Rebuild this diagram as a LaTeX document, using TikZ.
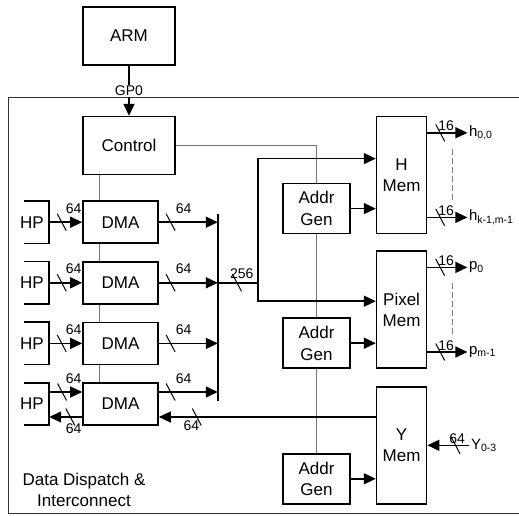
\documentclass[tikz,border=0pt]{standalone}
\usepackage{fontspec}
\setmainfont{Liberation Sans}
\usetikzlibrary{arrows.meta, positioning, calc}

\begin{document}
\begin{tikzpicture}[
  x=1pt, y=1pt,
  boxtext/.style={font=\fontsize{17}{21.5}\selectfont},
  block/.style={draw, line width=1.6pt, fill=white, align=center, inner sep=0pt, boxtext},
  cpubox/.style={block, minimum width=92pt, minimum height=58pt},
  dmabox/.style={block, minimum width=75pt, minimum height=42pt},
  agbox/.style={block, minimum width=67pt, minimum height=50pt},
  membox/.style={block, minimum width=50pt, minimum height=117pt},
  hpbox/.style={minimum width=25pt, minimum height=42pt, inner sep=0pt, label={[boxtext, xshift=-4.5pt]center:HP}},
  lab/.style={font=\fontsize{14}{16}\selectfont, inner sep=1pt},
  outlab/.style={font=\fontsize{15}{17}\selectfont, inner sep=1.5pt, anchor=west},
  arr/.style={-{Triangle[length=12pt, width=11pt]}, line width=1.5pt},
  bus/.style={line width=1.5pt},
  bracket/.style={line width=1.6pt},
  ctrl/.style={line width=1pt, black!55},
  frame/.style={line width=1pt, black!80},
  gap/.style={dash pattern=on 6pt off 3pt, line width=1pt, black!50},
  busmark/.pic={\draw[-, line width=1pt] (-4.5pt,8.5pt) -- (4.5pt,-8.5pt);}
]
\useasboundingbox (0,0) rectangle (519,516);
\draw[frame] (519,418) -- (8,418) -- (8,2) -- (519,2);

\node[cpubox] (arm) at (129,480) {ARM};
\node[cpubox, below=50pt of arm] (control) {Control};
\node[dmabox, below right=25pt and 0pt of control.south west] (dma1) {DMA};
\node[dmabox, below=17pt of dma1] (dma2) {DMA};
\node[dmabox, below=17pt of dma2] (dma3) {DMA};
\node[dmabox, below=17pt of dma3] (dma4) {DMA};
\node[hpbox, left=33pt of dma1] (hp1) {};
\node[hpbox, left=33pt of dma2] (hp2) {};
\node[hpbox, left=33pt of dma3] (hp3) {};
\node[hpbox, left=33pt of dma4] (hp4) {};
\node[membox, below right=0pt and 200pt of control.north east] (hmem) {H\\Mem};
\node[membox, below=16pt of hmem] (pmem) {Pixel\\Mem};
\node[membox, below=17pt of pmem] (ymem) {Y\\Mem};
\node[agbox, above left=0pt and 25pt of hmem.south west] (addr1) {Addr\\Gen};
\node[agbox, above left=0pt and 25pt of pmem.south west] (addr2) {Addr\\Gen};
\node[agbox, above left=0pt and 25pt of ymem.south west] (addr3) {Addr\\Gen};
\node[boxtext, align=center] (ddi) at (84,26) {Data Dispatch \&\\Interconnect};

\node[outlab] (h00) at ([xshift=40pt, yshift=-17pt]hmem.north east) {h\textsubscript{0,0}};
\node[outlab] (hkm) at ([xshift=40pt, yshift=17pt]hmem.south east) {h\textsubscript{k-1,m-1}};
\node[outlab] (p0) at ([xshift=40pt, yshift=-17pt]pmem.north east) {p\textsubscript{0}};
\node[outlab] (pm) at ([xshift=40pt, yshift=17pt]pmem.south east) {p\textsubscript{m-1}};
\node[outlab] (yin) at ([xshift=42pt]ymem.east) {Y\textsubscript{0-3}};

\coordinate[right=59pt of dma1.east] (bus1);
\coordinate[right=59pt of dma2.east] (bus2);
\coordinate[right=59pt of dma3.east] (bus3);
\coordinate[right=59pt of dma4.east, yshift=12pt] (bus4);
\coordinate[right=40pt of bus2] (split);
\coordinate[below=13pt of dma4.east] (ret);

% control wiring
\draw[ctrl] (control.east) -| (addr1.north);
\draw[ctrl] (addr1.south) -- (addr2.north);
\draw[ctrl] (addr2.south) -- (addr3.north);
\draw[ctrl] ([xshift=17pt]control.south west) -- ([xshift=17pt]dma1.north west);
\draw[ctrl] ([xshift=17pt]dma1.south west) -- ([xshift=17pt]dma2.north west);
\draw[ctrl] ([xshift=17pt]dma2.south west) -- ([xshift=17pt]dma3.north west);
\draw[ctrl] ([xshift=17pt]dma3.south west) -- ([xshift=17pt]dma4.north west);
\draw[arr] (arm) -- node[lab, fill=white, inner xsep=3pt] {GP0} (control);

% host ports
\draw[bracket] (hp1.north west) -- (hp1.north east) -- (hp1.south east) -- (hp1.south west);
\draw[bracket] (hp2.north west) -- (hp2.north east) -- (hp2.south east) -- (hp2.south west);
\draw[bracket] (hp3.north west) -- (hp3.north east) -- (hp3.south east) -- (hp3.south west);
\draw[bracket] (hp4.north west) -- (hp4.north east) -- (hp4.south east) -- (hp4.south west);
\draw[arr] (hp1.east) -- pic[pos=.38]{busmark} node[lab, pos=.74, above=7pt] {64} (dma1.west);
\draw[arr] (hp2.east) -- pic[pos=.38]{busmark} node[lab, pos=.74, above=7pt] {64} (dma2.west);
\draw[arr] (hp3.east) -- pic[pos=.38]{busmark} node[lab, pos=.74, above=7pt] {64} (dma3.west);
\draw[arr] ([yshift=12pt]hp4.east) -- pic[pos=.39]{busmark} node[lab, pos=.74, above=7pt] {64} ([yshift=12pt]dma4.west);
\draw[arr] ([yshift=-13pt]dma4.west) -- pic[pos=.36]{busmark} node[lab, pos=.26, below=5pt] {64} ([yshift=-13pt]hp4.east);

% dma to bus
\draw[arr] (dma1.east) -- pic[pos=.2]{busmark} node[lab, pos=.42, above=7pt] {64} (bus1);
\draw[arr] (dma2.east) -- pic[pos=.2]{busmark} node[lab, pos=.42, above=7pt] {64} (bus2);
\draw[arr] (dma3.east) -- pic[pos=.2]{busmark} node[lab, pos=.42, above=7pt] {64} (bus3);
\draw[arr] ([yshift=12pt]dma4.east) -- pic[pos=.2]{busmark} node[lab, pos=.42, above=7pt] {64} (bus4);
\draw[bus] ([yshift=8pt]bus1) -- ([yshift=-9pt]bus4);
\draw[bus] (bus2) -- pic[pos=.48]{busmark} node[lab, pos=.6, above=2pt] {256} (split);
\draw[arr] (split) |- ([yshift=16.5pt]hmem.west);
\draw[arr] (split) |- ([yshift=8.5pt]pmem.west);

% address generators
\draw[arr] (addr1.east) -- (addr1.east -| hmem.west);
\draw[arr] (addr2.east) -- (addr2.east -| pmem.west);
\draw[arr] (addr3.east) -- (addr3.east -| ymem.west);

% memory ports
\draw[arr] (hmem.east |- h00.west) -- pic[pos=.32]{busmark} node[lab, pos=.47, above=0pt] {16} (h00.west);
\draw[arr] (hmem.east |- hkm.west) -- pic[pos=.32]{busmark} node[lab, pos=.47, above=0pt] {16} (hkm.west);
\draw[arr] (pmem.east |- p0.west) -- pic[pos=.32]{busmark} node[lab, pos=.47, above=0pt] {16} (p0.west);
\draw[arr] (pmem.east |- pm.west) -- pic[pos=.32]{busmark} node[lab, pos=.47, above=0pt] {16} (pm.west);
\draw[gap] ([xshift=-15pt, yshift=-16pt]h00.west) -- ([xshift=-15pt, yshift=17pt]hkm.west);
\draw[gap] ([xshift=-15pt, yshift=-16pt]p0.west) -- ([xshift=-15pt, yshift=17pt]pm.west);
\draw[arr] (yin.west) -- pic[pos=.33]{busmark} node[lab, pos=.29, above=0pt] {64} (ymem.east);
\draw[arr] (ret -| ymem.west) -- pic[pos=.825]{busmark} node[lab, pos=.85, below=2pt] {64} (ret);
\end{tikzpicture}
\end{document}
